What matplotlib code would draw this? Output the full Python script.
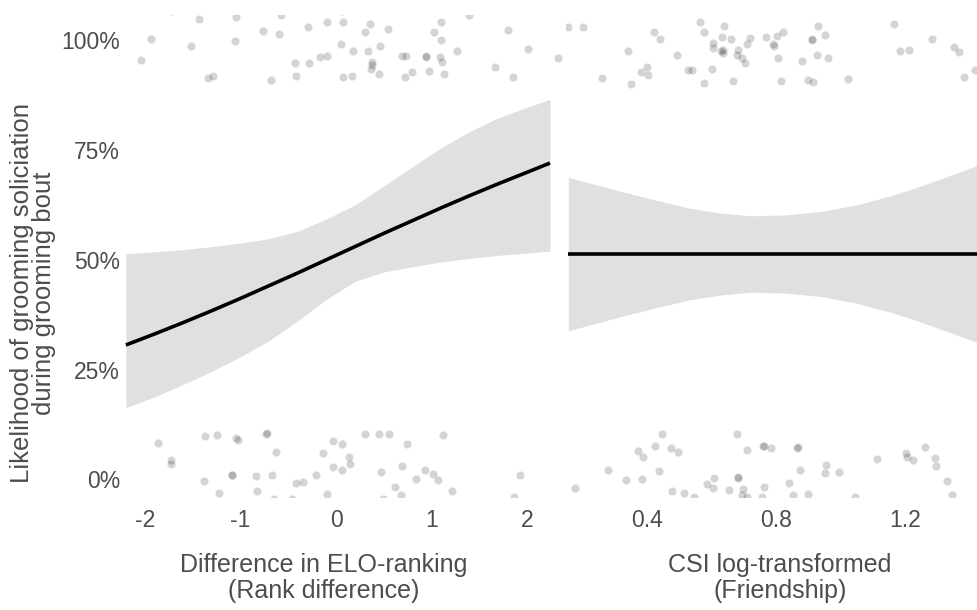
import matplotlib
matplotlib.use("Agg")
import matplotlib.pyplot as plt
from matplotlib.ticker import FixedLocator

plt.rcParams["font.family"] = ["Liberation Sans", "DejaVu Sans"]

# predicted curve + confidence band, rank difference panel
elo_x = [-2.2, -1.9, -1.6, -1.3, -1.0, -0.7, -0.4, -0.1, 0.2, 0.5, 0.8, 1.1, 1.4, 1.7, 2.0, 2.24]
elo_fit = [0.306, 0.331, 0.357, 0.384, 0.412, 0.441, 0.470, 0.500, 0.530, 0.560, 0.589, 0.618,
           0.646, 0.673, 0.699, 0.720]
elo_hi = [0.514, 0.518, 0.523, 0.530, 0.538, 0.548, 0.565, 0.593, 0.625, 0.668, 0.712, 0.755,
          0.792, 0.823, 0.847, 0.865]
elo_lo = [0.163, 0.188, 0.216, 0.246, 0.279, 0.316, 0.361, 0.410, 0.451, 0.472, 0.484, 0.495,
          0.503, 0.510, 0.515, 0.520]

# predicted curve + confidence band, friendship panel
csi_x = [0.156, 0.24, 0.322, 0.43, 0.528, 0.63, 0.725, 0.83, 0.942, 1.05, 1.148, 1.23, 1.303, 1.43]
csi_fit = [0.513, 0.513, 0.513, 0.513, 0.513, 0.513, 0.513, 0.513, 0.513, 0.513, 0.513, 0.513,
           0.513, 0.513]
csi_hi = [0.688, 0.671, 0.655, 0.635, 0.618, 0.606, 0.600, 0.602, 0.610, 0.625, 0.644, 0.663,
          0.682, 0.716]
csi_lo = [0.338, 0.355, 0.371, 0.391, 0.408, 0.420, 0.426, 0.424, 0.416, 0.401, 0.382, 0.363,
          0.344, 0.310]

# jittered raw observations (outcome 1 at top, 0 at bottom)
elo_top_x = [-1.432, -1.045, -0.572, -1.940, -2.039, -1.519, -1.056, -0.765, -0.597, -0.292,
             -0.098, 0.077, 0.358, 0.305, 0.544, 0.053, 0.182, 0.340, 0.456, -0.432,
             -0.287, -0.168, -0.092, -1.344, -1.292, -0.684, -0.414, 0.071, 0.165, 0.382,
             0.382, 0.365, 0.445, 0.692, 0.734, 0.944, 0.947, 1.084, 1.113, 0.726,
             0.797, 0.972, 1.129, 1.263, 1.024, 1.095, 1.102, 1.393, 1.797, 2.014,
             1.663, 1.849, 2.329, -1.729, 0.060]
elo_top_y = [1.049, 1.052, 1.058, 1.002, 0.954, 0.987, 0.998, 1.021, 1.014, 1.030,
             1.040, 1.040, 1.036, 1.018, 1.024, 0.991, 0.975, 0.976, 0.987, 0.947,
             0.948, 0.962, 0.964, 0.913, 0.918, 0.910, 0.918, 0.916, 0.918, 0.951,
             0.943, 0.934, 0.923, 0.964, 0.964, 0.964, 0.961, 0.961, 0.951, 0.915,
             0.927, 0.930, 0.923, 0.975, 1.018, 1.041, 1.001, 1.058, 1.023, 0.980,
             0.938, 0.915, 0.960, 1.065, 1.065]
elo_bot_x = [-1.863, -1.729, -1.729, -1.368, -1.249, -1.045, -1.024, -0.729, -0.726, -0.632,
             -1.379, -1.228, -1.092, -1.089, -0.835, -0.674, -0.832, -0.653, -0.456, -0.424,
             -0.347, -0.207, -0.140, -0.028, 0.066, 0.134, 0.147, -0.028, 0.066, -0.095,
             0.305, 0.445, 0.555, 0.747, 1.119, 0.471, 0.692, 0.618, 0.677, 0.487,
             0.839, 0.929, 1.011, 1.066, 1.211, 1.926, 1.860]
elo_bot_y = [0.083, 0.045, 0.034, 0.098, 0.102, 0.095, 0.089, 0.103, 0.105, 0.062,
             -0.004, -0.030, 0.011, 0.010, 0.008, 0.011, -0.027, -0.044, -0.044, -0.008,
             -0.006, 0.010, 0.061, 0.087, 0.081, 0.052, 0.036, 0.028, 0.022, -0.033,
             0.104, 0.104, 0.103, 0.081, 0.100, 0.018, 0.030, -0.018, -0.036, -0.045,
             0.001, 0.021, 0.013, -0.002, -0.027, 0.011, -0.040]

csi_top_x = [0.156, 0.202, 0.422, 0.440, 0.564, 0.578, 0.639, 0.340, 0.494, 0.604,
             0.606, 0.632, 0.660, 0.635, 0.637, 0.629, 0.683, 0.678, 0.694, 0.705,
             0.709, 0.719, 0.769, 0.792, 0.794, 0.802, 0.823, 0.805, 0.880, 0.911,
             0.912, 0.931, 0.952, 0.928, 0.962, 0.260, 0.350, 0.381, 0.399, 0.402,
             0.528, 0.540, 0.577, 0.602, 0.666, 0.815, 0.900, 0.914, 1.024, 1.166,
             1.184, 1.212, 1.283, 1.353, 1.367, 1.384, 1.417]
csi_top_y = [1.030, 1.030, 1.019, 1.002, 1.042, 1.019, 1.032, 0.976, 0.967, 0.994,
             0.981, 1.006, 1.003, 0.977, 0.971, 0.975, 0.977, 0.967, 0.958, 0.948,
             0.992, 1.005, 1.006, 0.992, 0.987, 1.009, 1.018, 0.960, 0.953, 1.002,
             1.000, 1.032, 1.011, 0.966, 0.958, 0.913, 0.900, 0.928, 0.939, 0.920,
             0.932, 0.932, 0.903, 0.934, 0.907, 0.907, 0.909, 0.905, 0.911, 1.036,
             0.975, 0.977, 1.002, 0.985, 0.973, 0.916, 0.932]
csi_bot_x = [0.177, 0.280, 0.335, 0.373, 0.387, 0.384, 0.425, 0.446, 0.438, 0.473,
             0.497, 0.477, 0.515, 0.547, 0.585, 0.604, 0.609, 0.654, 0.678, 0.681,
             0.682, 0.697, 0.694, 0.709, 0.709, 0.761, 0.763, 0.784, 0.764, 0.758,
             0.839, 0.854, 0.866, 0.868, 0.874, 0.900, 0.954, 0.952, 0.994, 1.044,
             1.112, 1.203, 1.205, 1.223, 1.262, 1.293, 1.295, 1.329, 1.345]
csi_bot_y = [-0.020, 0.022, -0.001, 0.064, 0.052, 0.002, 0.077, 0.104, 0.019, 0.072,
             0.062, -0.027, -0.030, -0.039, -0.011, -0.020, 0.004, -0.023, 0.103, 0.004,
             0.005, -0.021, -0.036, -0.039, 0.066, 0.076, 0.076, 0.072, -0.018, -0.039,
             -0.008, -0.036, 0.072, 0.073, 0.021, -0.034, 0.032, 0.014, 0.018, -0.039,
             0.047, 0.060, 0.051, 0.045, 0.074, 0.049, 0.030, -0.004, -0.036]

y_ticks = [0, 0.25, 0.5, 0.75, 1.0]
y_labels = ["0%", "25%", "50%", "75%", "100%"]
elo_ticks = [-2, -1, 0, 1, 2]
csi_ticks = [0.4, 0.8, 1.2]

text_col = "#4d4d4d"
W, H = 978, 610

fig = plt.figure(figsize=(W / 100, H / 100), dpi=100)
ax1 = fig.add_axes([125 / W, (H - 497) / H, (562 - 125) / W, (497 - 15) / H])
ax2 = fig.add_axes([566 / W, (H - 497) / H, (978 - 566) / W, (497 - 15) / H])

panels = [
    (ax1, elo_x, elo_fit, elo_lo, elo_hi, elo_top_x, elo_top_y, elo_bot_x, elo_bot_y, (-2.209, 2.366), elo_ticks),
    (ax2, csi_x, csi_fit, csi_lo, csi_hi, csi_top_x, csi_top_y, csi_bot_x, csi_bot_y, (0.149, 1.426), csi_ticks),
]

for ax, x, fit, lo, hi, tx, ty, bx, by, xlim, xt in panels:
    ax.fill_between(x, lo, hi, color="#e0e0e0", linewidth=0, zorder=1)
    ax.plot(x, fit, color="black", linewidth=2.6, solid_capstyle="butt", zorder=3)
    ax.scatter(tx + bx, ty + by, s=34, color="black", alpha=0.17, linewidths=0, zorder=2)
    ax.set_xlim(*xlim)
    ax.set_ylim(-0.04, 1.057)
    ax.xaxis.set_major_locator(FixedLocator(xt))
    ax.set_xticklabels([f"{t:g}" for t in xt])
    for s in ax.spines.values():
        s.set_visible(False)
    ax.tick_params(axis="x", length=0, pad=8.5, labelsize=16.5, labelcolor=text_col)
    ax.tick_params(axis="y", length=0, pad=3.5, labelsize=16.5, labelcolor=text_col)
    ax.set_facecolor("none")

ax1.set_yticks(y_ticks)
ax1.set_yticklabels(y_labels)
ax2.set_yticks([])

fig.text(33 / W, 1 - 293 / H, "Likelihood of grooming soliciation\nduring grooming bout",
         rotation=90, ha="center", va="center", fontsize=18.5, color=text_col, linespacing=0.88)
fig.text(324 / W, 1 - 553 / H, "Difference in ELO-ranking\n(Rank difference)",
         ha="center", va="top", fontsize=18, color=text_col, linespacing=1.08)
fig.text(780 / W, 1 - 553 / H, "CSI log-transformed\n(Friendship)",
         ha="center", va="top", fontsize=18, color=text_col, linespacing=1.08)

fig.savefig("out.png", dpi=100)
